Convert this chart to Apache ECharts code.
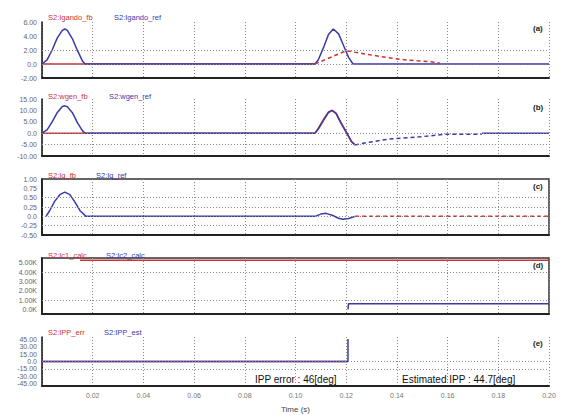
<!DOCTYPE html>
<html><head><meta charset="utf-8">
<script src="https://cdn.jsdelivr.net/npm/echarts@6/dist/echarts.min.js"></script>
<style>html,body{margin:0;padding:0;background:#fff}#c{width:561px;height:415px}</style>
</head><body><div id="c"></div>
<script>
// ---- data (time in s) ----
const xTickLabels = ['0.02','0.04','0.06','0.08','0.10','0.12','0.14','0.16','0.18','0.20'];
// panel (a)
const aRefT = [0,0.002,0.004,0.006,0.008,0.009,0.010,0.012,0.014,0.016,0.017,0.1077,0.109,0.111,0.113,0.1149,0.117,0.119,0.121,0.1227,0.2];
const aRefV = [0,0.6,2.0,3.7,4.8,5.0,4.8,3.6,1.9,0.4,0,0,0.6,2.3,4.2,5.0,4.3,2.6,0.9,0,0];
const aFbT1 = [0,0.1077];
const aFbV1 = [0,0];
const aFbT2 = [0.1077,0.120,0.1254,0.133,0.1412,0.148,0.154,0.157];
const aFbV2 = [0,1.9,1.55,1.1,0.67,0.45,0.3,0.1];
// panel (b)
const bRefT = [0,0.002,0.004,0.006,0.008,0.009,0.010,0.012,0.014,0.016,0.017,0.1077,0.109,0.111,0.113,0.1144,0.116,0.118,0.1203,0.122,0.1235];
const bRefV = [0,1.5,5,9,11.7,12,11.6,9,4.5,1,0,0,1.8,5.5,9,10,8.8,4.5,0,-3.5,-5.2];
const bRefT2 = [0.1235,0.1254,0.131,0.136,0.140,0.149,0.1588,0.1735];
const bRefV2 = [-5.2,-4.7,-3.6,-2.7,-2.3,-1.6,-0.5,-0.5];
const bRefT3 = [0.1736,0.2];
const bRefV3 = [0,0];
const bFbT = [0,0.1077,0.109,0.111,0.113,0.1144,0.116,0.118,0.1203,0.122,0.1235];
const bFbV = [0,0,2.2,6,9.3,10,8.6,4.2,-0.2,-3.6,-5.2];
// panel (c)
const cRefT = [0.0016,0.003,0.005,0.007,0.009,0.011,0.013,0.015,0.0174,0.1077,0.110,0.112,0.1145,0.117,0.1187,0.121,0.1235];
const cRefV = [0,0.15,0.4,0.58,0.65,0.58,0.38,0.15,0,0,0.06,0.08,0.03,-0.05,-0.08,-0.06,0];
const cFbT = [0.1235,0.2];
const cFbV = [0,0];
// panel (d)
const dC1T = [0.015,0.2];
const dC1V = [5250,5250];
const dC2T = [0.1207,0.1209,0.2];
const dC2V = [0,600,600];
// panel (e)
const eErrT = [0,0.1207];
const eErrV = [0,0];
const eEstT = [0,0.1207,0.1207];
const eEstV = [0,0,46];
// legend names
const namesA = ['S2:Igando_fb','S2:Igando_ref'];
const namesB = ['S2:wgen_fb','S2:wgen_ref'];
const namesC = ['S2:Iq_fb','S2:Iq_ref'];
const namesD = ['S2:Ic1_calc','S2:Ic2_calc'];
const namesE = ['S2:IPP_err','S2:IPP_est'];
const panelTags = ['(a)','(b)','(c)','(d)','(e)'];
const notes = ['IPP error : 46[deg]','Estimated IPP : 44.7[deg]'];

// ---- styling / layout ----
const RED = '#cc3333', BLUE = '#3a3aa8';
const FONT = 'Liberation Sans, Arial, sans-serif';
const pairs = (t, v) => t.map((x, i) => [x, v[i]]);
const grids = [
  {top:22, height:56},
  {top:99, height:57},
  {top:179, height:56},
  {top:258, height:56},
  {top:337, height:49}
];
const yCfg = [
  {min:-2, max:6, interval:2, fmt:v => v===0?'0.0':v.toFixed(2), grid:[2,0]},
  {min:-10, max:15, interval:5, fmt:v => v===0?'0.0':v.toFixed(2), grid:[-5,0]},
  {min:-0.5, max:1, interval:0.25, fmt:v => v===0?'0.0':v.toFixed(2), grid:[0.5,0.25,0,-0.25]},
  {min:-500, max:5500, interval:500, fmt:v => (v%1000===0)?(v===0?'0.0K':(v/1000).toFixed(2)+'K'):'', grid:[4000,1000]},
  {min:-50, max:50, interval:5, fmt:v => (v%15===0)?(v===0?'0.0':v.toFixed(2)):'', grid:[0,-15]}
];
const boxed = [false,false,true,true,false];
const legendRows = [[namesA,8,108],[namesB,87,103],[namesC,166,90],[namesD,246,100],[namesE,323,98]];

const legends = [];
legendRows.forEach(([n,y,bx]) => {
  legends.push({top:y, left:38, itemWidth:0, itemHeight:0, icon:'rect', selectedMode:false,
    textStyle:{fontSize:7.5, fontFamily:FONT, padding:0}, data:[{name:n[0], textStyle:{color:RED}}]});
  legends.push({top:y, left:bx-4, itemWidth:0, itemHeight:0, icon:'rect', selectedMode:false,
    textStyle:{fontSize:7.5, fontFamily:FONT, padding:0}, data:[{name:n[1], textStyle:{color:BLUE}}]});
});

const option = {
  animation:false,
  backgroundColor:'#fff',
  grid: grids.map((g,i) => ({left:42, right:12, top:g.top, height:g.height, show:boxed[i], borderColor:'#333', borderWidth:1.5})),
  xAxis: grids.map((g,i) => ({
    type:'value', gridIndex:i, min:0, max:0.2, interval:0.02,
    axisLine:{show:true, onZero:false, lineStyle:{color:'#222', width:2}},
    axisTick:{show:false},
    axisLabel:{show:i===4, color:'#777', fontSize:7, fontFamily:FONT, margin:6,
      formatter:(v)=>{const k=Math.round(v/0.02); return k>0?xTickLabels[k-1]:'';}},
    splitLine:{show:true, lineStyle:{color:'#888', width:1, type:[1,2]}},
    name: i===4?'Time (s)':'', nameLocation:'middle', nameGap:19,
    nameTextStyle:{color:'#444', fontSize:8, fontFamily:FONT}
  })),
  yAxis: yCfg.map((c,i) => ({
    type:'value', gridIndex:i, min:c.min, max:c.max, interval:c.interval,
    axisLine:{show:true, lineStyle:{color:'#111', width:1.5}},
    axisTick:{show:false},
    axisLabel:{color:'#666', fontSize:7, fontFamily:FONT, margin:5, formatter:c.fmt},
    splitLine:{show:false}
  })),
  legend: legends,
  graphic: panelTags.map((t,i) => ({
    type:'text', left:533, top:[24,103,182,261,339][i],
    style:{text:t, font:'bold 8px '+FONT, fill:'#222'}
  })).concat([
    {type:'text', left:255, top:374, style:{text:notes[0], font:'10px '+FONT, fill:'#111'}},
    {type:'text', left:402, top:374, style:{text:notes[1], font:'10px '+FONT, fill:'#111'}}
  ]),
  series: []
};

function line(name, gi, data, color, dashed, z) {
  return {type:'line', name, xAxisIndex:gi, yAxisIndex:gi, data, showSymbol:false, symbol:'none',
    lineStyle:{color, width:1.5, type: dashed?[4,3]:'solid'}, itemStyle:{color}, z:z||2, silent:true};
}
function gridMark(gi, vals) {
  return {type:'line', xAxisIndex:gi, yAxisIndex:gi, data:[], silent:true, z:1,
    markLine:{silent:true, symbol:'none', label:{show:false}, animation:false,
      lineStyle:{color:'#888', width:1, type:[1,2]}, data: vals.map(v=>({yAxis:v}))}};
}
yCfg.forEach((c,i)=>option.series.push(gridMark(i, c.grid)));
option.series.push(
  line(namesA[0],0,pairs(aFbT1,aFbV1),RED,false,2),
  line(namesA[0],0,pairs(aFbT2,aFbV2),RED,true,4),
  line(namesA[1],0,pairs(aRefT,aRefV),BLUE,false,3),
  line(namesB[0],1,pairs(bFbT,bFbV),RED,false,2),
  line(namesB[1],1,pairs(bRefT,bRefV),BLUE,false,3),
  line(namesB[1],1,pairs(bRefT2,bRefV2),BLUE,true,3),
  line(namesB[1],1,pairs(bRefT3,bRefV3),BLUE,false,3),
  line(namesC[1],2,pairs(cRefT,cRefV),BLUE,false,3),
  line(namesC[0],2,pairs(cFbT,cFbV),RED,true,4),
  line(namesD[0],3,pairs(dC1T,dC1V),RED,false,3),
  line(namesD[1],3,pairs(dC2T,dC2V),BLUE,false,3),
  line(namesE[0],4,pairs(eErrT,eErrV),RED,false,2),
  line(namesE[1],4,pairs(eEstT,eEstV),BLUE,false,3)
);
const chart = echarts.init(document.getElementById('c'), null, {renderer:'svg'});
chart.setOption(option);
</script></body></html>
